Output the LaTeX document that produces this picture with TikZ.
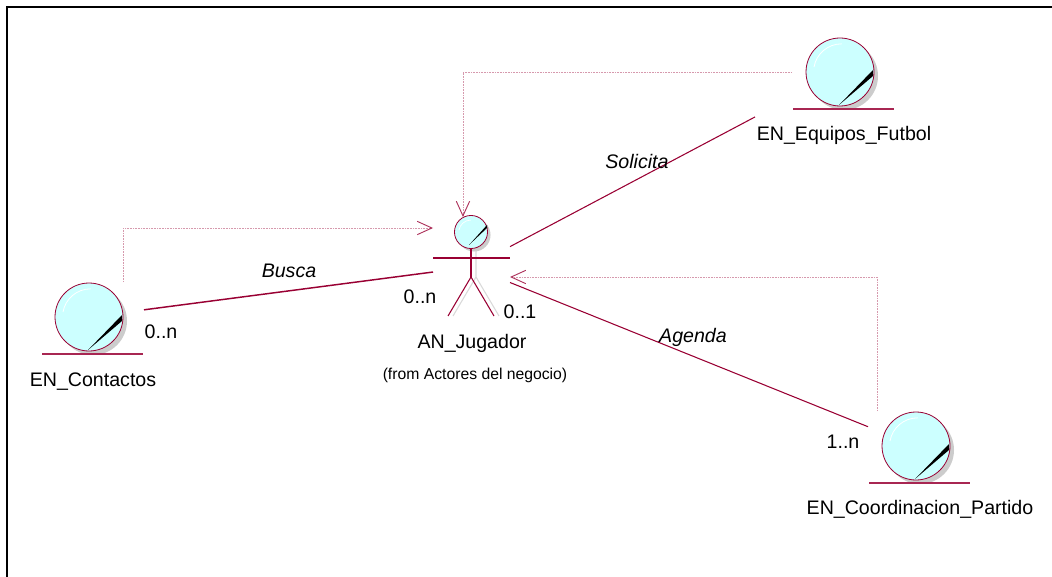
\documentclass[tikz,border=0pt]{standalone}
\usepackage{fontspec}
\setmainfont{Liberation Sans}
\definecolor{rosered}{RGB}{153, 0, 51}
\definecolor{rosecyan}{RGB}{204, 255, 255}
\usetikzlibrary{arrows.meta, positioning, calc}
\tikzset{
  iconbox/.style={inner sep=0pt, outer sep=0pt},
  rosetext/.style={font=\fontsize{14.7}{16}\selectfont, inner sep=0pt},
  rosesmall/.style={font=\fontsize{11.8}{14}\selectfont, inner sep=0pt},
  roleit/.style={font=\fontsize{14.7}{16}\selectfont\itshape, inner sep=0pt},
  assoc/.style={draw=rosered, line width=0.8pt},
  depend/.style={draw=rosered!40, line width=0.7pt, dash pattern=on 0.7pt off 0.5pt, -{Straight Barb[length=11pt, width=10pt, line width=0.7pt, color=rosered!80]}},
}

\begin{document}
\begin{tikzpicture}[x=0.75pt, y=-0.75pt]
  \useasboundingbox (0, 0) rectangle (1052, 577);
  % frame
  \draw[black, line width=1.8pt] (7, 577) -- (7, 7) -- (1052, 7);

  % boxes the connectors stop at
  \node[iconbox, minimum width=82.5pt, minimum height=52.5pt] (contactos) at (89, 317) {};
  \node[iconbox, minimum width=127.5pt, minimum height=72pt] (equipos) at (840, 72) {};
  \node[iconbox, minimum width=72pt, minimum height=52.5pt] (coordinacion) at (916, 446) {};
  \node[iconbox, minimum width=57.75pt, minimum height=75pt] (jugador) at (471.5, 267) {};

  % entity icons
  \foreach \icon/\cx/\cy in {contactos/89/317, equipos/840/72, coordinacion/916/446} {
    \fill[black!20] (\cx+4, \cy+4) circle (25.5pt);
    \draw[rosered, fill=rosecyan, line width=0.6pt] (\cx, \cy) circle (25.5pt);
    \draw[white, line width=0.6pt] (\cx-26, \cy-5) arc (170:90:21pt);
    \fill[black] (\cx-1, \cy+33) -- (\cx+33, \cy-2) -- (\cx+33, \cy+4) -- cycle;
    \draw[rosered!85, line width=0.8pt] (\cx-47, \cy+37) -- (\cx+54, \cy+37);
  }

  % actor
  \draw[black!15, line width=0.8pt] (476, 245) -- (476, 277) (476, 277) -- (453, 316) (476, 277) -- (499, 316);
  \fill[black!20] (474, 235) circle (12.4pt);
  \draw[rosered, fill=rosecyan, line width=0.6pt] (471, 232) circle (12.4pt);
  \draw[white, line width=0.5pt] (459, 230) arc (170:90:9pt);
  \fill[black] (469, 245) -- (487, 225) -- (487, 228) -- cycle;
  \draw[rosered, line width=0.8pt] (471, 248) -- (471, 277) (433, 258) -- (510, 258);
  \draw[rosered, line width=0.8pt] (448, 316) -- (471, 277) -- (494, 316);

  % labels
  \node[rosetext] (lblcontactos) at (93, 382) {EN\_Contactos};
  \node[rosetext] (lblequipos) at (844, 135) {EN\_Equipos\_Futbol};
  \node[rosetext] (lblcoordinacion) at (920, 509) {EN\_Coordinacion\_Partido};
  \node[rosetext] (lbljugador) at (472, 343) {AN\_Jugador};
  \node[rosesmall] (lblfrom) at (475, 375) {(from Actores del negocio)};

  % associations
  \draw[assoc, line width=1.1pt] (contactos) -- (jugador);
  \draw[assoc] (jugador) -- (equipos);
  \draw[assoc] (jugador) -- (coordinacion);

  % dependencies
  \draw[depend] ([xshift=25.5pt]contactos.north) |- ([yshift=29.25pt]jugador.west);
  \draw[depend] ([xshift=27.75pt]equipos.west) -| ([xshift=-6.4pt]jugador.north);
  \draw[depend] ([xshift=-29.25pt]coordinacion.north) |- ([yshift=-7.5pt]jugador.east);

  % roles and multiplicities
  \node[roleit] (busca) at (289, 271) {Busca};
  \node[roleit] (solicita) at (637, 161) {Solicita};
  \node[roleit] (agenda) at (693, 337) {Agenda};
  \node[rosetext] (mult1) at (161, 332) {0..n};
  \node[rosetext] (mult2) at (420, 297) {0..n};
  \node[rosetext] (mult3) at (520, 312) {0..1};
  \node[rosetext] (mult4) at (843, 442) {1..n};
\end{tikzpicture}
\end{document}
